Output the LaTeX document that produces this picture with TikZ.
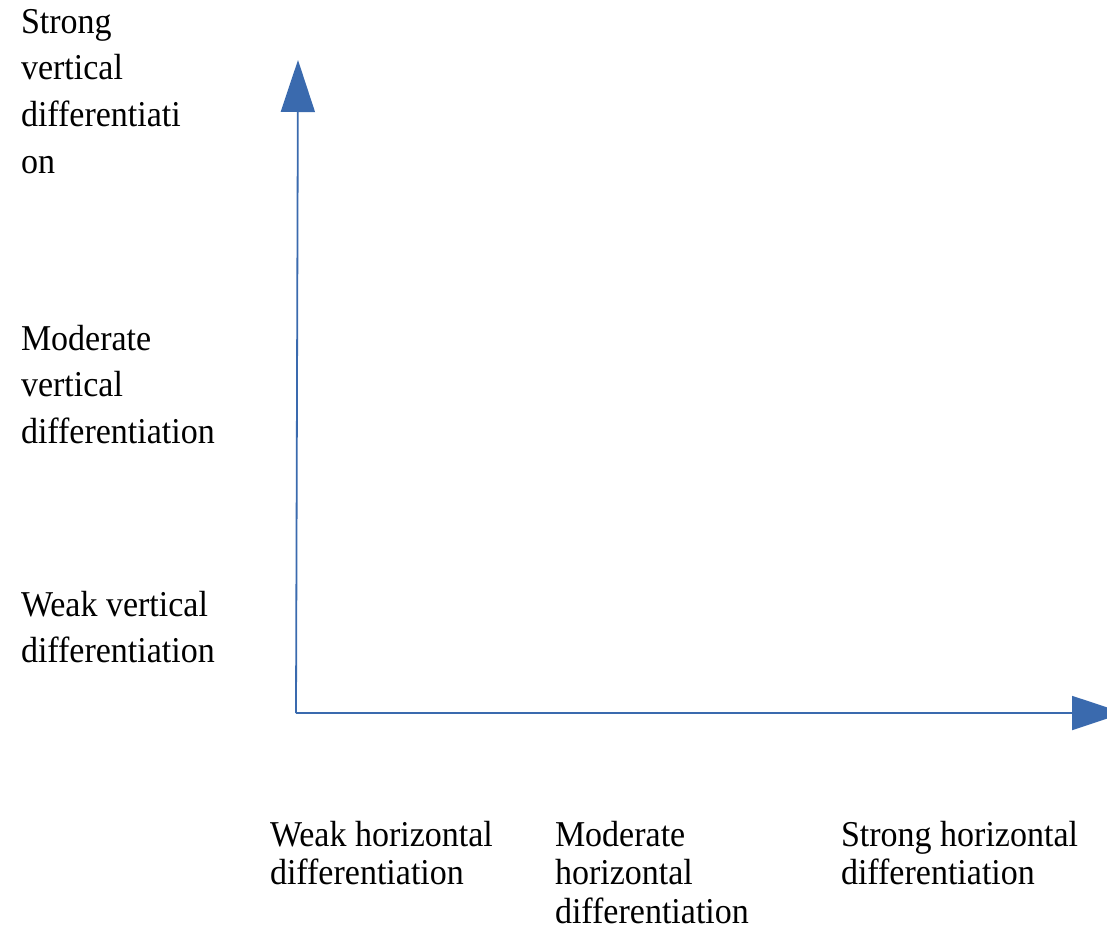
\documentclass[tikz,border=0pt]{standalone}
\usepackage{fontspec}
\setmainfont{Liberation Serif}
\usetikzlibrary{arrows.meta}
\definecolor{axisblue}{HTML}{3A6AAE}
\tikzset{
  lbl/.style={anchor=base west, inner sep=0pt, outer sep=0pt, text=black},
  axis/.style={draw=axisblue, line width=1.8pt,
    -{Triangle[length=52pt,width=34pt,fill=axisblue]}},
}
\newcommand{\vlab}[1]{\scalebox{1}[1.07]{\fontsize{34}{43.9}\selectfont\begin{tabular}[t]{@{}l@{}}#1\end{tabular}}}
\newcommand{\hlab}[1]{\scalebox{1}[1.07]{\fontsize{34}{36}\selectfont\begin{tabular}[t]{@{}l@{}}#1\end{tabular}}}
\begin{document}
\begin{tikzpicture}[x=1pt,y=-1pt]
\useasboundingbox (0,0) rectangle (1107,929);
\coordinate (O) at (296,713);
\coordinate (ytip) at (298,60);
\coordinate (xtip) at (1124,713);
\draw[axis] (O) -- (ytip);
\draw[axis] (O) -- (xtip);
\node[lbl] (sv) at (21,33) {\vlab{Strong\\vertical\\differentiati\\on}};
\node[lbl] (mv) at (21,350) {\vlab{Moderate\\vertical\\differentiation}};
\node[lbl] (wv) at (21,616) {\vlab{Weak vertical\\differentiation}};
\node[lbl] (wh) at (270,846) {\hlab{Weak horizontal\\differentiation}};
\node[lbl] (mh) at (555,846) {\hlab{Moderate\\horizontal\\differentiation}};
\node[lbl] (sh) at (841,846) {\hlab{Strong horizontal\\differentiation}};
\end{tikzpicture}
\end{document}
